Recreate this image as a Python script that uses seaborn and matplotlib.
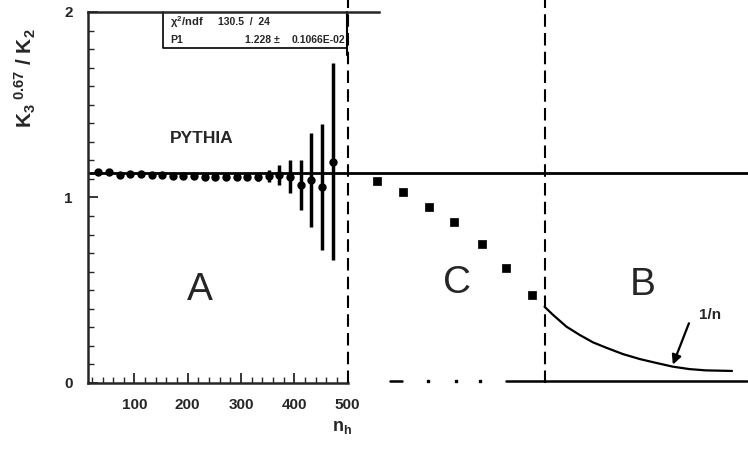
import matplotlib
matplotlib.use("Agg")
import matplotlib.pyplot as plt
from matplotlib.ticker import FixedLocator
import seaborn as sns
import pandas as pd

# region A: PYTHIA points with error bars
n_a = [32, 52, 72, 92, 112, 132, 152, 172, 192, 212, 232, 252,
       272, 292, 312, 332, 352, 372, 392, 412, 432, 452, 472]
k_a = [1.135, 1.14, 1.12, 1.125, 1.125, 1.12, 1.12, 1.118, 1.118, 1.115,
       1.112, 1.112, 1.112, 1.112, 1.112, 1.112, 1.115, 1.12, 1.112,
       1.067, 1.094, 1.058, 1.193]
err_a = [0.004, 0.004, 0.004, 0.004, 0.004, 0.005, 0.005, 0.006, 0.007,
         0.008, 0.009, 0.011, 0.013, 0.016, 0.02, 0.025, 0.032, 0.055,
         0.09, 0.135, 0.255, 0.34, 0.53]

# region C: square markers
n_c = [556, 604, 653, 700, 752, 797, 846]
k_c = [1.089, 1.031, 0.949, 0.869, 0.751, 0.620, 0.476]

# region B: 1/n curve
n_b = [870, 886, 911, 936, 961, 986, 1017, 1049, 1080, 1111, 1142, 1173, 1222]
k_b = [0.411, 0.367, 0.304, 0.259, 0.219, 0.190, 0.156, 0.129, 0.108,
       0.088, 0.075, 0.068, 0.065]

fit_p1 = 1.13
region_edges = [500, 870]
base_segments = [(580, 602), (798, 1250)]
base_dots = [651, 704, 749]
x_ticks = [100, 200, 300, 400, 500]
y_ticks = [0, 1, 2]

W, H = 748, 463

sns.set_style("ticks")
plt.rcParams['font.family'] = ['Liberation Sans Narrow', 'Liberation Sans', 'DejaVu Sans']
plt.rcParams['mathtext.fontset'] = 'custom'
plt.rcParams['mathtext.rm'] = 'Liberation Sans:bold'
plt.rcParams['mathtext.it'] = 'Liberation Sans:bold'
plt.rcParams['mathtext.bf'] = 'Liberation Sans:bold'


def px(x, y):
    return x / W, 1 - y / H


fig = plt.figure(figsize=(W / 100, H / 100), dpi=100)
ax = fig.add_axes([88 / W, 80 / H, 660 / W, 371 / H])

ax.errorbar(n_a, k_a, yerr=err_a, fmt='o', color='k', ms=5,
            elinewidth=2.5, capsize=0, zorder=3)

dfc = pd.DataFrame({'n': n_c, 'k': k_c})
sns.scatterplot(data=dfc, x='n', y='k', marker='s', s=40, color='k',
                edgecolor='k', ax=ax, zorder=3)

dfb = pd.DataFrame({'n': n_b, 'k': k_b})
sns.lineplot(data=dfb, x='n', y='k', color='k', lw=1.6, ax=ax)

ax.axhline(fit_p1, color='k', lw=2)
for e in region_edges:
    ax.plot([e, e], [0, 2.07], color='k', lw=1.5, ls=(0, (6, 3)), clip_on=False)
for a, b in base_segments:
    ax.plot([a, b], [0.01, 0.01], color='k', lw=1.8)
ax.plot(base_dots, [0.01] * len(base_dots), 'ks', ms=2)

# stats box
ax.plot([154, 154, 499], [2, 1.806, 1.806], color='k', lw=1.2, clip_on=False)
ax.plot([499, 499], [2, 1.768], color='k', lw=1.5, clip_on=False)

ax.set_xlim(12.7, 1252)
ax.set_ylim(0, 2)
ax.spines['right'].set_visible(False)
ax.spines['top'].set_bounds(12.7, 560)
ax.spines['bottom'].set_bounds(12.7, 500)
for s in ['left', 'top', 'bottom']:
    ax.spines[s].set_linewidth(1.8)

ax.set_xticks(x_ticks)
ax.set_yticks(y_ticks)
ax.xaxis.set_minor_locator(FixedLocator(range(20, 500, 20)))
ax.yaxis.set_minor_locator(FixedLocator([i / 10 for i in range(1, 20)]))
ax.tick_params(which='major', direction='in', length=7, width=1.3,
               labelsize=11, pad=11)
ax.tick_params(which='minor', direction='in', length=4, width=1)
for lab in ax.get_xticklabels() + ax.get_yticklabels():
    lab.set_fontweight('bold')
ax.set_xlabel('')
ax.set_ylabel('')

# texts
fig.text(*px(25, 78), r'K$_3$$^{\ 0.67}$ / K$_2$', rotation=90,
         ha='center', va='center', fontsize=15, fontweight='bold')
fig.text(*px(342, 428), r'n$_\mathregular{h}$', ha='center', va='center',
         fontsize=13, fontweight='bold')

ax.text(166, 1.32, 'PYTHIA', ha='left', va='center', fontsize=12.5,
        fontweight='bold')
for lab, x, y in [('A', 222, 0.50), ('C', 705, 0.54), ('B', 1054, 0.53)]:
    ax.text(x, y, lab, ha='center', va='center', fontsize=28,
            family=['Liberation Sans', 'DejaVu Sans'])
ax.text(1181, 0.367, '1/n', ha='center', va='center', fontsize=11,
        fontweight='bold')
ax.annotate('', xy=(1109, 0.085), xytext=(1143, 0.336),
            arrowprops=dict(arrowstyle='-|>', color='k', lw=1.6,
                            mutation_scale=14))

fig.text(*px(170, 22), r'$\chi^2$/ndf', ha='left', va='center', fontsize=8,
         fontweight='bold')
fig.text(*px(218, 22), '130.5  /  24', ha='left', va='center', fontsize=7.5,
         fontweight='bold')
fig.text(*px(170, 40), 'P1', ha='left', va='center', fontsize=7.5,
         fontweight='bold')
fig.text(*px(280, 40), '1.228 \u00b1', ha='right', va='center', fontsize=7.5,
         fontweight='bold')
fig.text(*px(345, 40), '0.1066E-02', ha='right', va='center', fontsize=7.5,
         fontweight='bold')

fig.savefig('out.png', dpi=100)
